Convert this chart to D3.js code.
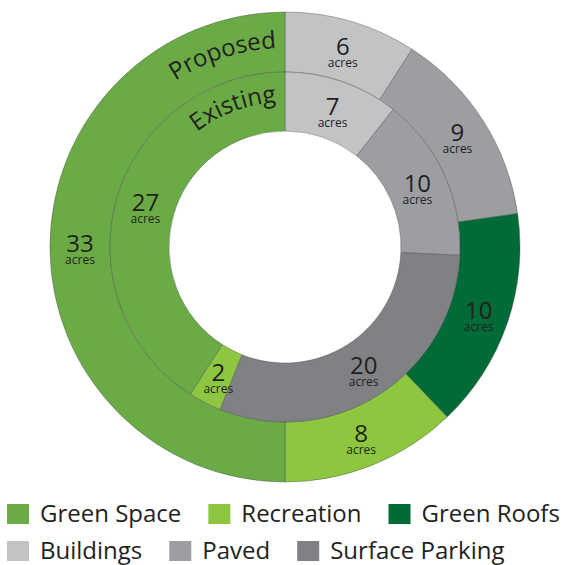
<!DOCTYPE html>
<html>
<head>
<meta charset="utf-8">
<script src="https://cdn.jsdelivr.net/npm/d3@7/dist/d3.min.js"></script>
<style>
  html, body { margin: 0; padding: 0; background: #fff; }
  svg { display: block; }
  text { font-family: "Open Sans", "Noto Sans", sans-serif; fill: #231f20; }
</style>
</head>
<body>
<svg id="chart" width="565" height="565"></svg>
<script>
// ---- data ----
const categories = ["Green Space", "Recreation", "Green Roofs", "Buildings", "Paved", "Surface Parking"];
const colors = ["#6aab45", "#8dc63f", "#006b37", "#c2c3c5", "#9d9ea1", "#808184"];

const proposedCats = ["Buildings", "Paved", "Green Roofs", "Recreation", "Green Space"];
const proposedValues = [6, 9, 10, 8, 33];

const existingCats = ["Buildings", "Paved", "Surface Parking", "Recreation", "Green Space"];
const existingValues = [7, 10, 20, 2, 27];

const ringLabels = ["Proposed", "Existing"];
const unitLabel = "acres";

// ---- layout ----
const svg = d3.select("#chart");
const cx = 285, cy = 247;
const rHole = 116, rMid = 175, rOuter = 235;

const color = d3.scaleOrdinal().domain(categories).range(colors);

const pie = d3.pie().sort(null).value(d => d.value).startAngle(0).endAngle(2 * Math.PI);

const g = svg.append("g").attr("transform", `translate(${cx},${cy})`);

function drawRing(cats, values, r0, r1, cls) {
  const data = cats.map((c, i) => ({ cat: c, value: values[i] }));
  const arcs = pie(data);
  const arc = d3.arc().innerRadius(r0).outerRadius(r1);
  const ring = g.append("g").attr("class", cls);
  ring.selectAll("path").data(arcs).join("path")
    .attr("d", arc)
    .attr("fill", d => color(d.data.cat))
    .attr("stroke", "#4d4d4f")
    .attr("stroke-opacity", 0.7)
    .attr("stroke-width", 0.6);
  const lab = ring.selectAll("g.lab").data(arcs).join("g")
    .attr("class", "lab")
    .attr("transform", d => {
      const c = arc.centroid(d);
      return `translate(${c[0]},${c[1]})`;
    });
  lab.append("text")
    .attr("text-anchor", "middle")
    .attr("y", 5)
    .attr("font-size", 24)
    .text(d => d.data.value);
  lab.append("text")
    .attr("text-anchor", "middle")
    .attr("y", 17)
    .attr("font-size", 12)
    .text(unitLabel);
}

drawRing(proposedCats, proposedValues, rMid, rOuter, "outer");
drawRing(existingCats, existingValues, rHole, rMid, "inner");

// curved ring titles
function arcPath(r, a0, a1) {
  const p0 = [r * Math.sin(a0), -r * Math.cos(a0)];
  const p1 = [r * Math.sin(a1), -r * Math.cos(a1)];
  return `M${p0[0]},${p0[1]} A${r},${r} 0 0 1 ${p1[0]},${p1[1]}`;
}
const deg = Math.PI / 180;
const titleDefs = [
  { id: "pPath", r: 199, end: -2.5 * deg },
  { id: "ePath", r: 145, end: -3.5 * deg }
];
const defs = svg.append("defs");
titleDefs.forEach((t, i) => {
  defs.append("path")
    .attr("id", t.id)
    .attr("d", arcPath(t.r, -90 * deg, t.end))
    .attr("transform", `translate(${cx},${cy})`);
  svg.append("text")
    .attr("font-size", 24)
    .append("textPath")
    .attr("href", "#" + t.id)
    .attr("startOffset", "100%")
    .attr("text-anchor", "end")
    .text(ringLabels[i]);
});

// legend
const legendRows = [
  ["Green Space", "Recreation", "Green Roofs"],
  ["Buildings", "Paved", "Surface Parking"]
];
const rowY = [504, 541];
legendRows.forEach((row, ri) => {
  let x = 7;
  row.forEach(cat => {
    svg.append("rect")
      .attr("x", x).attr("y", rowY[ri])
      .attr("width", 22).attr("height", 20)
      .attr("fill", color(cat));
    const t = svg.append("text")
      .attr("x", x + 33)
      .attr("y", rowY[ri] + 18)
      .attr("font-size", 24)
      .text(cat);
    const w = t.node().getComputedTextLength();
    x = x + 33 + w + 27;
  });
});
</script>
</body>
</html>
